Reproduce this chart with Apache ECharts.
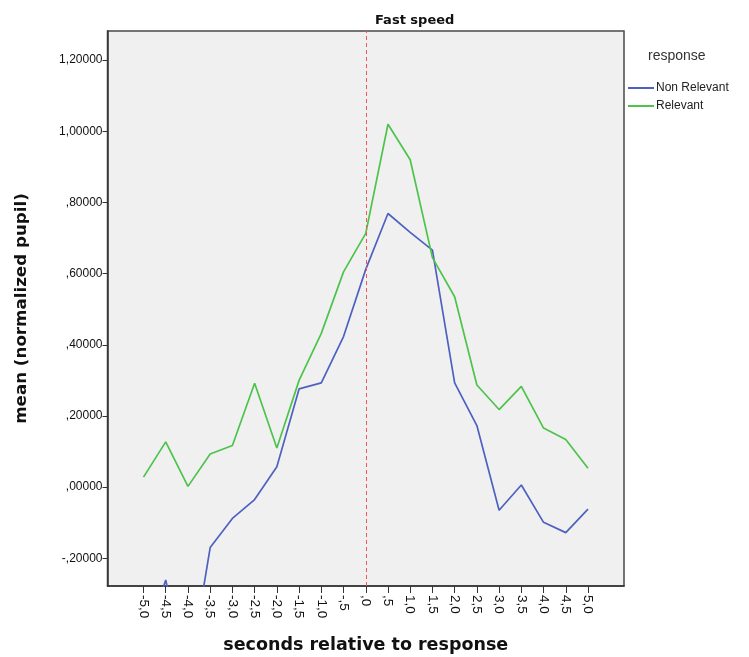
<!DOCTYPE html>
<html>
<head>
<meta charset="utf-8">
<script src="https://cdn.jsdelivr.net/npm/echarts@6/dist/echarts.min.js"></script>
<style>
html,body{margin:0;padding:0;background:#fff;}
#c{width:749px;height:657px;}
</style>
</head>
<body>
<div id="c"></div>
<script>
var seconds = [-5.0,-4.5,-4.0,-3.5,-3.0,-2.5,-2.0,-1.5,-1.0,-0.5,0.0,0.5,1.0,1.5,2.0,2.5,3.0,3.5,4.0,4.5,5.0];
var nonRelevant = [-0.45,-0.261,-0.548,-0.170,-0.088,-0.035,0.057,0.276,0.293,0.423,0.612,0.769,0.716,0.666,0.293,0.173,-0.065,0.006,-0.099,-0.128,-0.062];
var relevant = [0.028,0.127,0.002,0.093,0.117,0.292,0.110,0.300,0.432,0.605,0.713,1.020,0.920,0.645,0.535,0.287,0.218,0.283,0.166,0.134,0.053];
var xTickValues = [-5.0,-4.5,-4.0,-3.5,-3.0,-2.5,-2.0,-1.5,-1.0,-0.5,0.0,0.5,1.0,1.5,2.0,2.5,3.0,3.5,4.0,4.5,5.0];
var xTickLabels = ["-5,0","-4,5","-4,0","-3,5","-3,0","-2,5","-2,0","-1,5","-1,0","-,5",",0",",5","1,0","1,5","2,0","2,5","3,0","3,5","4,0","4,5","5,0"];
var yTickValues = [-0.2,0.0,0.2,0.4,0.6,0.8,1.0,1.2];
var yTickLabels = ["-,20000",",00000",",20000",",40000",",60000",",80000","1,00000","1,20000"];
var seriesNames = ["Non Relevant","Relevant"];

function lookup(vals, labels, v){
  for (var i=0;i<vals.length;i++){ if (Math.abs(vals[i]-v)<1e-6) return labels[i]; }
  return '';
}
function pairs(ys){ return seconds.map(function(x,i){ return [x, ys[i]]; }); }

var chart = echarts.init(document.getElementById('c'), null, {renderer:'canvas'});
var font = 'Liberation Sans, Arial, sans-serif';
chart.setOption({
  animation:false,
  backgroundColor:'#ffffff',
  textStyle:{fontFamily:font},
  grid:{left:107.5, top:31, width:516.5, height:555, outerBoundsMode:'none', containLabel:false,
        show:true, backgroundColor:'#f0f0f0', borderColor:'#4a4a4a', borderWidth:1.5},
  title:{text:'Fast speed', left:370, top:9, textStyle:{fontFamily:'DejaVu Sans, sans-serif', fontSize:13, fontWeight:'bold', color:'#111'}},
  legend:{
    orient:'vertical', left:623, top:77, itemWidth:26, itemHeight:2, itemGap:6,
    icon:'rect',
    textStyle:{fontFamily:font, fontSize:12, color:'#222', padding:[0,0,0,-3]},
    data:seriesNames
  },
  graphic:[{type:'text', left:648, top:49, style:{text:'response', font:'14px Liberation Sans, Arial, sans-serif', fill:'#333'}}],
  xAxis:{
    type:'value', min:-5.81, max:5.81,
    name:'seconds relative to response', nameLocation:'middle', nameGap:50,
    nameTextStyle:{fontFamily:'DejaVu Sans, sans-serif', fontSize:17.5, fontWeight:'bold', color:'#111'},
    axisLine:{show:true, onZero:false, lineStyle:{color:'#333', width:1.5}},
    axisTick:{show:true, length:7, lineStyle:{color:'#333'}, customValues:xTickValues},
    axisLabel:{show:true, rotate:-90, margin:9, fontSize:13.5, color:'#111', fontFamily:font,
      customValues:xTickValues,
      formatter:function(v){ return lookup(xTickValues, xTickLabels, v); }},
    splitLine:{show:false}
  },
  yAxis:{
    type:'value', min:-0.278, max:1.282,
    name:'mean (normalized pupil)', nameLocation:'middle', nameGap:77,
    nameTextStyle:{fontFamily:'DejaVu Sans, sans-serif', fontSize:16.7, fontWeight:'bold', color:'#111'},
    axisLine:{show:true, onZero:false, lineStyle:{color:'#333', width:1.5}},
    axisTick:{show:true, length:5, lineStyle:{color:'#333'}, customValues:yTickValues},
    axisLabel:{show:true, margin:5, fontSize:12, color:'#111', fontFamily:font,
      customValues:yTickValues,
      formatter:function(v){ return lookup(yTickValues, yTickLabels, v); }},
    splitLine:{show:false}
  },
  series:[
    {name:seriesNames[0], type:'line', data:pairs(nonRelevant), showSymbol:false, symbol:'none',
     lineStyle:{color:'#4d62c0', width:1.7}, itemStyle:{color:'#4d62c0'}, clip:true,
     markLine:{silent:true, symbol:'none', label:{show:false},
       lineStyle:{color:'#f25858', type:[4,3], width:1}, data:[{xAxis:0}]}},
    {name:seriesNames[1], type:'line', data:pairs(relevant), showSymbol:false, symbol:'none',
     lineStyle:{color:'#4cc44c', width:1.7}, itemStyle:{color:'#4cc44c'}, clip:true}
  ]
});
</script>
</body>
</html>
